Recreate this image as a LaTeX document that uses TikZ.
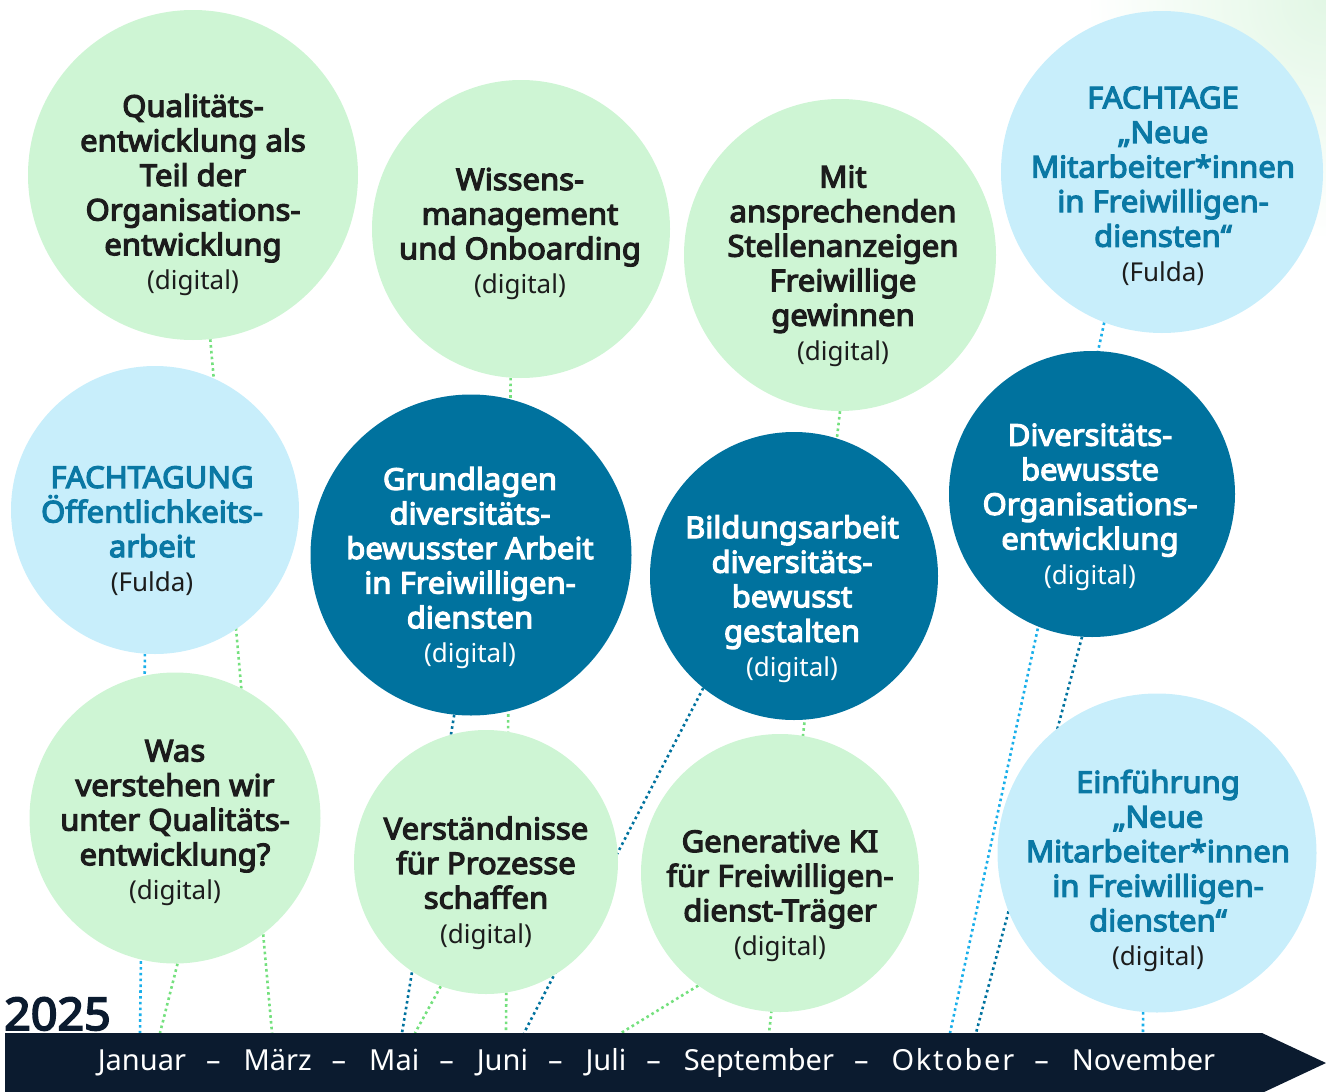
\documentclass[tikz,border=0pt]{standalone}
\usepackage{fontspec}
\setmainfont{Noto Sans}[BoldFont={Noto Sans},BoldFeatures={FakeBold=4,FakeStretch=1.035}]
\definecolor{cgreen}{HTML}{CEF5D4}
\definecolor{clblue}{HTML}{C8EEFB}
\definecolor{cdblue}{HTML}{00729E}
\definecolor{ctxt}{HTML}{1C1C1C}
\definecolor{cbtxt}{HTML}{0A78A4}
\definecolor{cnavy}{HTML}{0B1B2F}
\definecolor{lgreen}{HTML}{74E07E}
\definecolor{llblue}{HTML}{1AAFEA}
\definecolor{cglow}{HTML}{E2F7E5}
\pgfdeclarelayer{back}
\pgfdeclarelayer{bg}
\pgfsetlayers{back,bg,main}
\newcommand\dig[1]{{\fontsize{26}{34.6}\selectfont\mdseries #1}}
\newcommand\msep{\hspace{20pt}–\hspace{23pt}}
\begin{document}
\begin{tikzpicture}[x=1pt,y=-1pt,
  circ/.style={circle,inner sep=0pt,draw=none,minimum size=#1},
  gcirc/.style={circ=#1,fill=cgreen},
  bcirc/.style={circ=#1,fill=clblue},
  dcirc/.style={circ=#1,fill=cdblue},
  ctext/.style={align=center,inner sep=0pt,font=\fontsize{30}{34.6}\selectfont\bfseries,text=ctxt},
  wtext/.style={ctext,text=white},
  btext/.style={ctext,text=cbtxt},
  dotline/.style={line width=2.6pt,dash pattern=on 2.6pt off 3.2pt},
  dotg/.style={dotline,draw=lgreen},
  dotb/.style={dotline,draw=llblue},
  dotd/.style={dotline,draw=cdblue}]
\useasboundingbox (0,0) rectangle (1326,1092);
\begin{pgfonlayer}{back}
  \shade[inner color=cglow,outer color=white] (1326,0) circle (240);
\end{pgfonlayer}

% circles
\node[gcirc=330] (c1) at (193,175) {};
\node[gcirc=298] (c2) at (521,229) {};
\node[gcirc=312] (c3) at (840,255) {};
\node[bcirc=322] (c4) at (1162,172) {};
\node[bcirc=288] (c5) at (155,510) {};
\node[dcirc=321] (c6) at (471,555) {};
\node[dcirc=288] (c7) at (794,576) {};
\node[dcirc=286] (c8) at (1092,494) {};
\node[gcirc=291] (c9) at (175,818) {};
\node[gcirc=264] (c10) at (486,862) {};
\node[gcirc=278] (c11) at (780,873) {};
\node[bcirc=319] (c12) at (1157,853) {};

% texts
\node[ctext] (t1) at (193,195) {Qualitäts-\\entwicklung als\\Teil der\\Organisations-\\entwicklung\\\dig{(digital)}};
\node[ctext] (t2) at (520,234) {Wissens-\\management\\und Onboarding\\\dig{(digital)}};
\node[ctext] (t3) at (843,266) {Mit\\ansprechenden\\Stellenanzeigen\\Freiwillige\\gewinnen\\\dig{(digital)}};
\node[btext] (t4) at (1163,186) {FACHTAGE\\„Neue\\Mitarbeiter*innen\\in Freiwilligen-\\diensten“\\\dig{\color{ctxt}(Fulda)}};
\node[btext] (t5) at (152,531) {FACHTAGUNG\\Öffentlichkeits-\\arbeit\\\dig{\color{ctxt}(Fulda)}};
\node[wtext] (t6) at (470,568) {Grundlagen\\diversitäts-\\bewusster Arbeit\\in Freiwilligen-\\diensten\\\dig{(digital)}};
\node[wtext] (t7) at (792,599) {Bildungsarbeit\\diversitäts-\\bewusst\\gestalten\\\dig{(digital)}};
\node[wtext] (t8) at (1090,507) {Diversitäts-\\bewusste\\Organisations-\\entwicklung\\\dig{(digital)}};
\node[ctext] (t9) at (175,823) {Was\\verstehen wir\\unter Qualitäts-\\entwicklung?\\\dig{(digital)}};
\node[ctext] (t10) at (486,883) {Verständnisse\\für Prozesse\\schaffen\\\dig{(digital)}};
\node[ctext] (t11) at (780,896) {Generative KI\\für Freiwilligen-\\dienst-Träger\\\dig{(digital)}};
\node[btext] (t12) at (1158,871) {Einführung\\„Neue\\Mitarbeiter*innen\\in Freiwilligen-\\diensten“\\\dig{\color{ctxt}(digital)}};

% timeline
\fill[cnavy] (5,1033) -- (1262,1033) -- (1326,1063) -- (1262,1093) -- (5,1093) -- cycle;
\node[text=white,font=\fontsize{29}{30}\selectfont,inner sep=0pt] (months) at (656.5,1063)
  {Januar\msep März\msep Mai\msep Juni\msep Juli\msep September\msep {\addfontfeature{LetterSpace=6}Oktober}\msep November};
\node[text=cnavy,font=\fontsize{45}{46}\selectfont\bfseries,anchor=base west,inner sep=0pt] (year) at (4,1030) {2025};

% timeline anchor points
\coordinate (pA) at (272,1033);
\coordinate (pB) at (506,1033);
\coordinate (pC) at (769,1033);
\coordinate (pD) at (160,1033);
\coordinate (pE) at (415,1033);
\coordinate (pF) at (621,1033);
\coordinate (pG) at (140,1033);
\coordinate (pH) at (950,1033);
\coordinate (pI) at (1143,1033);
\coordinate (pJ) at (402,1033);
\coordinate (pK) at (524,1033);
\coordinate (pL) at (976,1033);

\begin{pgfonlayer}{bg}
  \draw[dotg] (c1.276) -- (pA);
  \draw[dotg] (c2.266) -- (pB);
  \draw[dotg] (c3.270) -- (pC);
  \draw[dotg] (c9.271) -- (pD);
  \draw[dotg] (c10.250) -- (pE);
  \draw[dotg] (c11.234) -- (pF);
  \draw[dotb] (c5.266) -- (pG);
  \draw[dotb] (c4.249) -- (pH);
  \draw[dotb] (c12.265) -- (pI);
  \draw[dotd] (c6.264) -- (pJ);
  \draw[dotd] (c7.231) -- (pK);
  \draw[dotd] (c8.266) -- (pL);
\end{pgfonlayer}
\end{tikzpicture}
\end{document}
